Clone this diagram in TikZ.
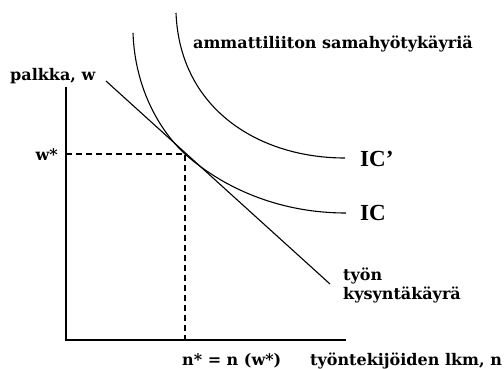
\documentclass[tikz,border=0pt]{standalone}
\usepackage{fontspec}
\setmainfont{DejaVu Serif}
\newfontfamily\icfont{Liberation Serif}
\begin{document}
\begin{tikzpicture}[x=1pt,y=-1pt,
  lbl/.style={font=\fontsize{16}{19}\selectfont\bfseries, inner sep=0pt},
  big/.style={font=\icfont\fontsize{23}{26}\selectfont\bfseries, inner sep=0pt},
  crv/.style={line width=1.1pt},
  axis/.style={line width=1.4pt},
  dsh/.style={line width=1.1pt, dash pattern=on 6pt off 4pt}]
\useasboundingbox (0,0) rectangle (504,369);
\coordinate (O) at (66,340);
\coordinate (Ytop) at (66,87);
\coordinate (Xend) at (346,340);
\coordinate (E) at (185,154);
\coordinate (Wy) at (66,154);
\coordinate (Nx) at (185,340);
\coordinate (D1) at (106,81);
\coordinate (D2) at (330,284);
\coordinate (A0) at (133,33);
\coordinate (A1) at (346,213);
\coordinate (B0) at (176,13);
\coordinate (B1) at (345,158);
\draw[axis] (Ytop) -- (O) -- (Xend);
\draw[dsh] (Wy) -- (E) -- (Nx);
\draw[crv] (D1) -- (D2);
\draw[crv] (A0) .. controls (135,90) and (161,132) .. (E) .. controls (215,181) and (270,213) .. (A1);
\draw[crv] (B0) .. controls (180,110) and (260,158) .. (B1);
\node[lbl, anchor=west] (t1) at (193,44) {ammattiliiton samahyötykäyriä};
\node[lbl, anchor=west] (t2) at (10,76) {palkka, w};
\node[lbl, anchor=east] (t3) at (58,155) {w*};
\node[big, anchor=west] (t4) at (360,159) {IC’};
\node[big, anchor=west] (t5) at (360,213) {IC};
\node[lbl, anchor=west, align=left] (t6) at (343,285) {työn\\kysyntäkäyrä};
\node[lbl, anchor=west] (t7) at (182,361) {n* = n (w*)};
\node[lbl, anchor=west] (t8) at (310,361) {työntekijöiden lkm, n};
\end{tikzpicture}
\end{document}
